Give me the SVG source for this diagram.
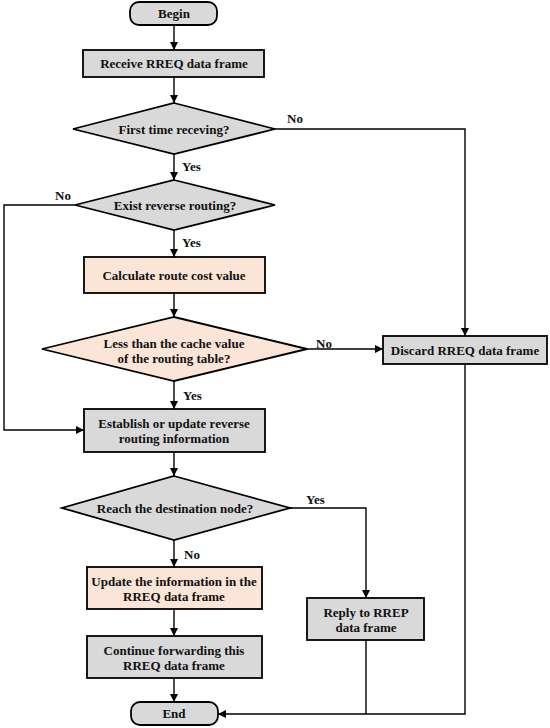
<svg xmlns="http://www.w3.org/2000/svg" width="550" height="728" viewBox="0 0 550 728">
<defs>
<marker id="arr" viewBox="0 0 10 10" refX="10" refY="5" markerWidth="8" markerHeight="8" markerUnits="userSpaceOnUse" orient="auto">
<path d="M0,0 L10,5 L0,10 z" fill="#000"/>
</marker>
</defs>
<style>
.g{fill:#d9d9d9;stroke:#000;stroke-width:1.8}
.o{fill:#fbe5d6;stroke:#000;stroke-width:1.8}
.t{font-family:"Liberation Serif","Times New Roman",serif;font-weight:bold;font-size:13px;text-anchor:middle;dominant-baseline:central;fill:#111}
.l{font-family:"Liberation Serif","Times New Roman",serif;font-weight:bold;font-size:13px;fill:#111}
.c{fill:none;stroke:#000;stroke-width:1.4}
</style>
<rect width="550" height="728" fill="#fff"/>
<g id="connectors">
<path class="c" d="M174,25 V50" marker-end="url(#arr)"/>
<path class="c" d="M174,77 V103" marker-end="url(#arr)"/>
<path class="c" d="M275,129 H465 V336" marker-end="url(#arr)"/>
<path class="c" d="M174,154 V180" marker-end="url(#arr)"/>
<path class="c" d="M75,205 H4 V430 H84" marker-end="url(#arr)"/>
<path class="c" d="M174,230 V257" marker-end="url(#arr)"/>
<path class="c" d="M174,293 V317" marker-end="url(#arr)"/>
<path class="c" d="M307,349 H383" marker-end="url(#arr)"/>
<path class="c" d="M174,381 V409" marker-end="url(#arr)"/>
<path class="c" d="M174,452 V476" marker-end="url(#arr)"/>
<path class="c" d="M290,508 H366 V598" marker-end="url(#arr)"/>
<path class="c" d="M174,540 V567" marker-end="url(#arr)"/>
<path class="c" d="M174,609 V636" marker-end="url(#arr)"/>
<path class="c" d="M174,678 V702" marker-end="url(#arr)"/>
<path class="c" d="M465,364 V714 H218" marker-end="url(#arr)"/>
<path class="c" d="M366,640 V714"/>
<text class="l" x="287" y="123">No</text>
<text class="l" x="182" y="171">Yes</text>
<text class="l" x="55" y="200">No</text>
<text class="l" x="182" y="247">Yes</text>
<text class="l" x="316" y="348">No</text>
<text class="l" x="183" y="400">Yes</text>
<text class="l" x="306" y="504">Yes</text>
<text class="l" x="184" y="559">No</text>
</g>
<g id="begin"><rect class="g" x="130" y="2" width="87" height="23" rx="9"/><text class="t" x="174" y="13.5">Begin</text></g>
<g id="receive"><rect class="g" x="83" y="50" width="181" height="27"/><text class="t" x="174" y="63.5">Receive RREQ data frame</text></g>
<g id="first"><polygon class="g" points="174,103 275,129 174,154 73,129"/><text class="t" x="174" y="129">First time receving?</text></g>
<g id="exist"><polygon class="g" points="174,180 275,205 174,230 75,205"/><text class="t" x="175" y="205">Exist reverse routing?</text></g>
<g id="calc"><rect class="o" x="84" y="257" width="181" height="36"/><text class="t" x="174" y="275">Calculate route cost value</text></g>
<g id="less"><polygon class="o" points="174,317 307,349 174,381 42,349"/><text class="t" x="174" y="343">Less than the cache value</text><text class="t" x="174" y="358">of the routing table?</text></g>
<g id="discard"><rect class="g" x="383" y="336" width="164" height="28"/><text class="t" x="465" y="350">Discard RREQ data frame</text></g>
<g id="establish"><rect class="g" x="84" y="409" width="181" height="43"/><text class="t" x="174" y="423">Establish or update reverse</text><text class="t" x="174" y="438">routing information</text></g>
<g id="reach"><polygon class="g" points="174,476 290,508 174,540 62,508"/><text class="t" x="175" y="508">Reach the destination node?</text></g>
<g id="update"><rect class="o" x="87" y="567" width="175" height="42"/><text class="t" x="174" y="581">Update the information in the</text><text class="t" x="174" y="596">RREQ data frame</text></g>
<g id="continue"><rect class="g" x="87" y="636" width="175" height="42"/><text class="t" x="174" y="650">Continue forwarding this</text><text class="t" x="174" y="665">RREQ data frame</text></g>
<g id="reply"><rect class="g" x="307" y="598" width="117" height="42"/><text class="t" x="366" y="612">Reply to RREP</text><text class="t" x="366" y="627">data frame</text></g>
<g id="end"><rect class="g" x="131" y="702" width="87" height="23" rx="9"/><text class="t" x="174" y="713.5">End</text></g>
</svg>
